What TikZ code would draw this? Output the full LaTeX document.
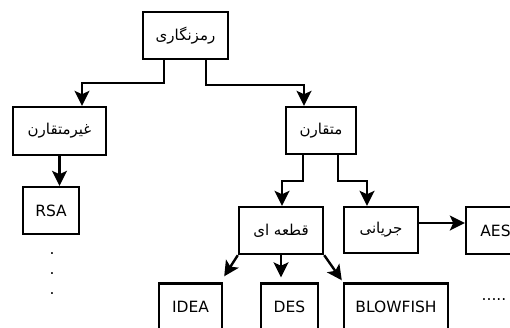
\documentclass[tikz,border=0pt]{standalone}
\usepackage{fontspec}
\setmainfont{DejaVu Sans}
\newfontfamily\arabicfont[Script=Arabic]{DejaVu Sans}
\TeXXeTstate=1
\usetikzlibrary{arrows.meta}
\tikzset{
  box/.style={draw=black, line width=2.4pt, rectangle, inner sep=0pt, font=\fontsize{15.5}{18}\selectfont},
  arr/.style={line width=2.4pt, -{Stealth[length=15pt,width=15pt,inset=3.5pt]}},
}
\newcommand{\fa}[1]{{\fontsize{15}{17}\selectfont\arabicfont\beginR #1\endR}}
\begin{document}
\begin{tikzpicture}[x=1pt,y=-1pt]
\useasboundingbox (0,0) rectangle (510,327);
\node[box, minimum width=85pt, minimum height=47pt] (top) at (185.5,35.5) {\fa{رمزنگاری}};
\node[box, minimum width=93pt, minimum height=48pt] (asym) at (59.5,131) {\fa{غیرمتقارن}};
\node[box, minimum width=70pt, minimum height=47pt] (sym) at (321,130.5) {\fa{متقارن}};
\node[box, minimum width=56pt, minimum height=47pt] (rsa) at (51,210.5) {RSA};
\node[box, minimum width=84pt, minimum height=47pt] (block) at (281,230.5) {\fa{قطعه ای}};
\node[box, minimum width=74pt, minimum height=46pt] (stream) at (381,230) {\fa{جریانی}};
\node[box, minimum width=59pt, minimum height=47pt] (aes) at (495.5,230.5) {AES};
\node[box, minimum width=63pt, minimum height=47pt] (idea) at (190.5,307) {IDEA};
\node[box, minimum width=57pt, minimum height=47pt] (des) at (289.5,307) {DES};
\node[box, minimum width=104pt, minimum height=47pt] (blow) at (396,307) {BLOWFISH};
\node[font=\fontsize{15.5}{18}\selectfont, inner sep=0pt] (more) at (494,300) {.....};
\node[font=\fontsize{15.5}{20}\selectfont, align=center, inner sep=0pt] (vdots) at (52,274) {.\\.\\.};
% connectors
\draw[arr] ([xshift=-21.5pt]top.south) -- ++(0,23) -| ([xshift=22.5pt]asym.north);
\draw[arr] ([xshift=20.5pt]top.south) -- ++(0,25) -| ([xshift=-17pt]sym.north);
\draw[arr] (asym.south) -- (asym.south |- rsa.north);
\draw[arr] ([xshift=-18pt]sym.south) -- ++(0,26) -| ([xshift=1pt]block.north);
\draw[arr] ([xshift=17pt]sym.south) -- ++(0,26) -| ([xshift=-14pt]stream.north);
\draw[arr] ([yshift=7pt]stream.east) -- ([yshift=7pt]stream.east -| aes.west);
\coordinate (ideatip) at ([xshift=1pt,yshift=6pt]idea.north east);
\coordinate (blowtip) at ([xshift=-1pt,yshift=2pt]blow.north west);
\draw[arr] (block.south) -- ([yshift=5pt]block.south |- des.north);
\draw[arr] (block.south west) -- (ideatip);
\draw[arr] (block.south east) -- (blowtip);
\end{tikzpicture}
\end{document}
